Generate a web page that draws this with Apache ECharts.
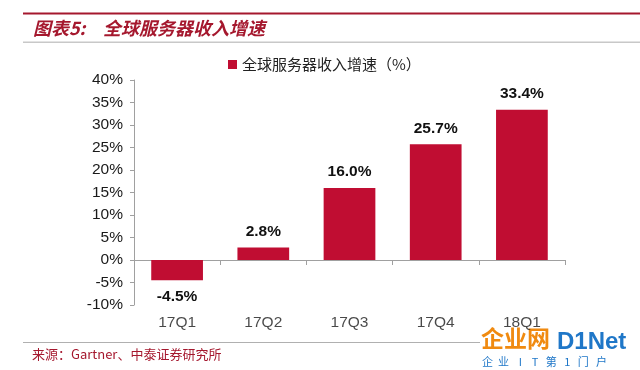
<!DOCTYPE html>
<html><head><meta charset="utf-8">
<script src="https://cdn.jsdelivr.net/npm/echarts@6/dist/echarts.min.js"></script>
<style>html,body{margin:0;padding:0;background:#fff}#c{width:640px;height:370px}</style>
</head><body><div id="c"></div>
<script>
const categories = ['17Q1','17Q2','17Q3','17Q4','18Q1'];
const growth = [-4.5, 2.8, 16.0, 25.7, 33.4];
const seriesName = '全球服务器收入增速（%）';
const titlePrefix = '图表5:';
const titleText = '全球服务器收入增速';
const sourceText = '来源：Gartner、中泰证券研究所';

const chart = echarts.init(document.getElementById('c'));
const red = '#C00D32';
const barData = growth.map(v => ({
  value: v,
  label: { position: v < 0 ? 'bottom' : 'top' }
}));
chart.setOption({
  backgroundColor: '#fff',
  animation: false,
  legend: {
    data: [seriesName], top: 52, left: 223, itemWidth: 9, itemHeight: 9, itemGap: 3,
    icon: 'rect',
    textStyle: { fontFamily: 'Noto Sans CJK SC', fontSize: 15, color: '#222' }
  },
  grid: { left: 134, right: 75, top: 80, bottom: 65 },
  xAxis: {
    type: 'category', data: categories,
    axisLine: { onZero: true, lineStyle: { color: '#a0a0a0' } },
    axisTick: { show: true, alignWithLabel: false, length: 5, lineStyle: { color: '#a0a0a0' } },
    axisLabel: { show: false }
  },
  yAxis: {
    type: 'value', min: -10, max: 40, interval: 5,
    axisLine: { show: true, lineStyle: { color: '#a0a0a0' } },
    axisTick: { show: true, length: 4, lineStyle: { color: '#a0a0a0' } },
    splitLine: { show: false },
    axisLabel: { formatter: '{value}%', fontFamily: 'Liberation Sans', fontSize: 15.5, color: '#1a1a1a', margin: 11 }
  },
  series: [{
    name: seriesName, type: 'bar', data: barData, barWidth: '60%',
    itemStyle: { color: red },
    label: {
      show: true, distance: 8,
      formatter: p => p.value.toFixed(1) + '%',
      fontFamily: 'Liberation Sans', fontWeight: 'bold', fontSize: 15.5, color: '#111'
    }
  }, {
    type: 'scatter', data: categories.map((c) => [c, -10]), symbolSize: 0,
    silent: true, legendHoverLink: false,
    label: { show: true, position: 'bottom', distance: 10, formatter: p => p.value[0],
      fontFamily: 'Liberation Sans', fontSize: 15.5, color: '#1a1a1a' },
    tooltip: { show: false }
  }],
  graphic: [
    { type: 'rect', shape: { x: 23, y: 12.5, width: 617, height: 2 }, style: { fill: '#A5182E' } },
    { type: 'text', left: 33, top: 19, style: { text: titlePrefix, font: 'italic bold 18px "Noto Sans CJK SC"', fill: '#A5182E' } },
    { type: 'text', left: 103, top: 19, style: { text: titleText, font: 'italic bold 18px "Noto Sans CJK SC"', fill: '#A5182E' } },
    { type: 'rect', shape: { x: 23, y: 41.5, width: 617, height: 1.5 }, style: { fill: '#c8c8c8' } },
    { type: 'rect', shape: { x: 23, y: 342, width: 457, height: 1 }, style: { fill: '#b0b0b0' } },
    { type: 'text', left: 32, top: 348, style: { text: sourceText, font: '13px "Noto Sans CJK SC"', fill: '#A5182E' } },
    { type: 'text', left: 481, top: 327, style: { text: '企业网', font: 'bold 23px "Noto Sans CJK SC"', fill: '#F08A10' } },
    { type: 'text', left: 557, top: 330, style: { text: 'D1Net', font: 'bold 24px "Liberation Sans"', fill: '#1F77C8' } },
    { type: 'text', left: 482, top: 356, style: { text: '企  业    I    T   第   1   门   户', font: '11px "Noto Sans CJK SC"', fill: '#1F77C8' } }
  ]
});
</script></body></html>
